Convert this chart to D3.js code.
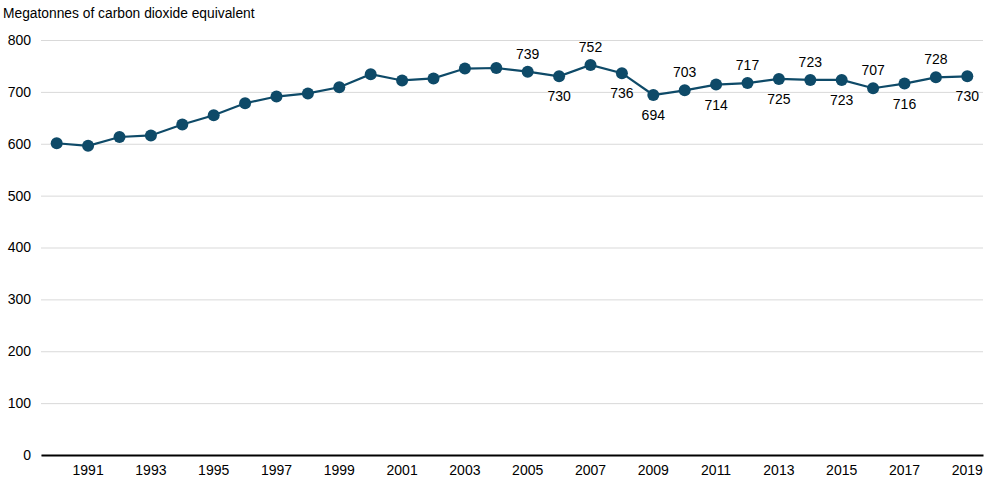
<!DOCTYPE html>
<html><head><meta charset="utf-8">
<script src="https://cdn.jsdelivr.net/npm/d3@7"></script>
<style>body{margin:0;background:#fff;} text{font-family:"Liberation Sans",Arial,sans-serif;}</style>
</head><body><svg id="c" width="990" height="489"></svg>
<script>
const years = d3.range(1990, 2020);
const values = [601,596,613,616,637,655,678,691,697,709,734,722,726,745,746,739,730,752,736,694,703,714,717,725,723,723,707,716,728,730];
const labelYears = [2005,2006,2007,2008,2009,2010,2011,2012,2013,2014,2015,2016,2017,2018,2019];
const labelPos = ["above","below","above","below","below","above","below","above","below","above","below","above","below","above","below"];
const yTicks = [0,100,200,300,400,500,600,700,800];
const xTickYears = years.filter(y => y % 2 === 1);
const title = "Megatonnes of carbon dioxide equivalent";

(function(){
const svg = d3.select("#c");
const mLeft = 41, mRight = 983, mTop = 40, mBottom = 455;
const x = d3.scaleBand().domain(years).range([mLeft, mRight]);
const y = d3.scaleLinear().domain([0, 800]).range([mBottom, mTop]);
const cx = d => x(d) + x.bandwidth() / 2;
const color = "#0e4a68";

svg.append("text").attr("x", 3).attr("y", 18).attr("font-size", 13.8).attr("fill", "#000").text(title);

const ya = svg.append("g").attr("transform", `translate(${mLeft},0)`)
  .call(d3.axisLeft(y).tickValues(yTicks).tickSize(-(mRight - mLeft)).tickFormat(d3.format("d")));
ya.select(".domain").remove();
ya.selectAll(".tick line").attr("stroke", "#d9d9d9").attr("stroke-width", 1);
ya.selectAll(".tick text").attr("x", -10).attr("font-size", 14).attr("fill", "#000").style("font-family", "Liberation Sans, Arial, sans-serif");

const xa = svg.append("g").attr("transform", `translate(0,${mBottom})`)
  .call(d3.axisBottom(x).tickValues(xTickYears).tickSize(0).tickPadding(10));
xa.select(".domain").attr("stroke", "#000").attr("stroke-width", 2);
xa.selectAll(".tick text").attr("font-size", 14).attr("fill", "#000").style("font-family", "Liberation Sans, Arial, sans-serif");

const data = years.map((yr, i) => ({yr, v: values[i]}));
svg.append("path").datum(data)
  .attr("d", d3.line().x(d => cx(d.yr)).y(d => y(d.v)))
  .attr("fill", "none").attr("stroke", color).attr("stroke-width", 2.2);
svg.selectAll("circle.pt").data(data).join("circle")
  .attr("cx", d => cx(d.yr)).attr("cy", d => y(d.v)).attr("r", 6).attr("fill", color);

svg.selectAll("text.lbl").data(labelYears).join("text")
  .attr("x", d => cx(d))
  .attr("y", (d, i) => y(values[years.indexOf(d)]) + (labelPos[i] === "above" ? -13 : 25))
  .attr("text-anchor", "middle").attr("font-size", 14).attr("fill", "#000")
  .text(d => values[years.indexOf(d)]);
})();
</script></body></html>
